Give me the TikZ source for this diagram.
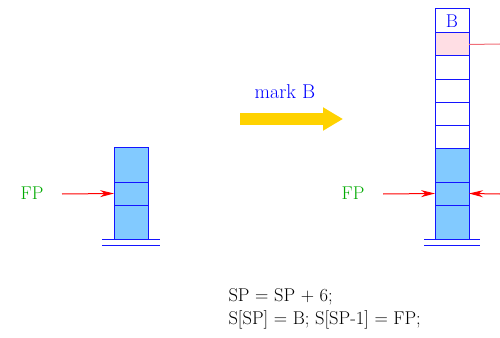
\documentclass[tikz,border=0pt]{standalone}
\usetikzlibrary{arrows.meta}
\definecolor{cellblue}{RGB}{130,202,255}
\definecolor{edgeblue}{RGB}{20,20,255}
\definecolor{pinkcell}{RGB}{255,222,228}
\definecolor{fpgreen}{RGB}{0,170,0}
\definecolor{goldarrow}{RGB}{255,210,0}
\definecolor{pinkline}{RGB}{240,110,120}
\definecolor{textblue}{RGB}{0,0,255}
\begin{document}
\begin{tikzpicture}[x=1pt,y=-1pt,
  cell/.style={draw=edgeblue, line width=1pt, minimum width=34pt, inner sep=0pt, outer sep=0pt, anchor=north west},
  fullcell/.style={cell, fill=cellblue},
  emptycell/.style={cell, fill=white},
  lbl/.style={font=\fontsize{18.5}{22}\selectfont},
  fptext/.style={lbl, text=fpgreen},
  redarrow/.style={red, line width=1pt, -{Stealth[length=14pt,width=7pt]}},
  pinkarrow/.style={pinkline, line width=1pt},
  bigarrow/.style={goldarrow, line width=12pt, -{Triangle[length=20pt,width=22pt]}},
  baseline/.style={edgeblue, line width=1pt}]
\useasboundingbox (0,0) rectangle (500,337);
% left stack
\node[fullcell, minimum height=35pt] (l1) at (114,147) {};
\node[fullcell, minimum height=23pt] (l2) at (114,182) {};
\node[fullcell, minimum height=34pt] (l3) at (114,205) {};
\draw[baseline] ([xshift=-12pt]l3.south west) -- ([xshift=12pt]l3.south east);
\draw[baseline] ([xshift=-12pt,yshift=-6pt]l3.south west) -- ([xshift=12pt,yshift=-6pt]l3.south east);
\node[fptext] (fpL) at (32,193) {FP};
\coordinate (aL) at (62,194);
\draw[redarrow] (aL) -- (l2.west);
% arrow
\node[lbl, text=textblue, font=\fontsize{20}{24}\selectfont] (mark) at (285,92) {mark B};
\coordinate (ys) at (240,119);
\coordinate (ye) at (343,119);
\draw[bigarrow] (ys) -- (ye);
% right stack
\node[emptycell, minimum height=24pt, lbl, text=textblue] (rB) at (435,9) {B};
\node[cell, fill=pinkcell, minimum height=23pt] (rP) at (435,33) {};
\node[emptycell, minimum height=23pt] (r3) at (435,56) {};
\node[emptycell, minimum height=23pt] (r4) at (435,79) {};
\node[emptycell, minimum height=23pt] (r5) at (435,102) {};
\node[emptycell, minimum height=23pt] (r6) at (435,125) {};
\node[fullcell, minimum height=34pt] (r7) at (435,148) {};
\node[fullcell, minimum height=23pt] (r8) at (435,182) {};
\node[fullcell, minimum height=34pt] (r9) at (435,205) {};
\draw[baseline] ([xshift=-11pt]r9.south west) -- ([xshift=11pt]r9.south east);
\draw[baseline] ([xshift=-11pt,yshift=-6pt]r9.south west) -- ([xshift=11pt,yshift=-6pt]r9.south east);
\node[fptext] (fpR) at (353,193) {FP};
\coordinate (aR1) at (383,194);
\draw[redarrow] (aR1) -- (r8.west);
\coordinate (aR2) at (500,194);
\draw[redarrow] (aR2) -- (r8.east);
\coordinate (pR) at (500,44);
\draw[pinkarrow] (rP.east) -- (pR);
% code
\node[lbl, align=left, anchor=west, font=\fontsize{18.5}{23}\selectfont] (code) at (225,309) {SP = SP + 6;\\S[SP] = B; S[SP-1] = FP;};
\end{tikzpicture}
\end{document}
